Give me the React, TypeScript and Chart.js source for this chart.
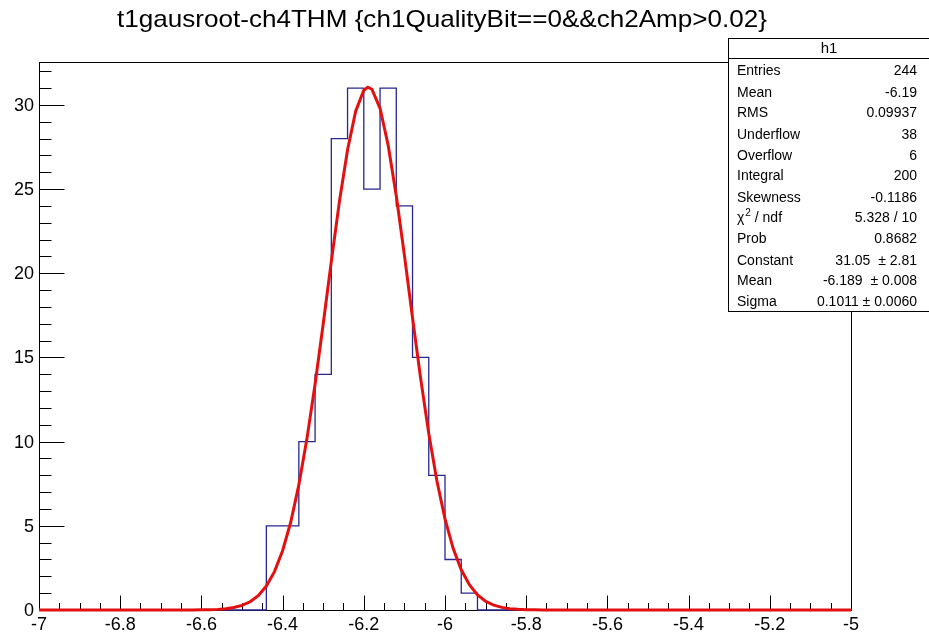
import React, { useEffect, useRef } from "react";
import { Chart, registerables } from "chart.js";

Chart.register(...registerables);

// ---------- data ----------
const TITLE = "t1gausroot-ch4THM {ch1QualityBit==0&&ch2Amp>0.02}";
const X_MIN = -7;
const X_MAX = -5;
const Y_MIN = 0;
const Y_MAX = 32.55;

const BIN_WIDTH = 0.04;
const binLowEdges = [-6.44, -6.4, -6.36, -6.32, -6.28, -6.24, -6.2, -6.16, -6.12, -6.08, -6.04, -6.0, -5.96];
const binCounts = [5, 5, 10, 14, 28, 31, 25, 31, 24, 15, 8, 3, 1];

const fitX = [
  -7.0, -6.62, -6.6, -6.58, -6.56, -6.54, -6.52, -6.5, -6.48, -6.46, -6.44, -6.42, -6.4, -6.38, -6.36,
  -6.34, -6.32, -6.3, -6.28, -6.26, -6.24, -6.22, -6.2, -6.19, -6.18, -6.16, -6.14, -6.12, -6.1, -6.08,
  -6.06, -6.04, -6.02, -6.0, -5.98, -5.96, -5.94, -5.92, -5.9, -5.88, -5.86, -5.84, -5.82, -5.8, -5.78,
  -5.76, -5.0,
];
const fitY = [
  0, 0.004, 0.008, 0.018, 0.037, 0.075, 0.146, 0.274, 0.49, 0.85, 1.42, 2.28, 3.52, 5.21, 7.43,
  10.18, 13.41, 16.99, 20.71, 24.27, 27.34, 29.63, 30.87, 31.05, 30.93, 29.8, 27.61, 24.6, 21.08, 17.36,
  13.76, 10.48, 7.68, 5.41, 3.66, 2.39, 1.5, 0.9, 0.52, 0.291, 0.156, 0.08, 0.04, 0.019, 0.009,
  0.004, 0,
];

const xMajorTicks = [-7, -6.8, -6.6, -6.4, -6.2, -6, -5.8, -5.6, -5.4, -5.2, -5];
const xTickLabels = ["-7", "-6.8", "-6.6", "-6.4", "-6.2", "-6", "-5.8", "-5.6", "-5.4", "-5.2", "-5"];
const X_MINOR_STEP = 0.05;
const yMajorTicks = [0, 5, 10, 15, 20, 25, 30];
const yTickLabels = ["0", "5", "10", "15", "20", "25", "30"];
const Y_MINOR_STEP = 1;

const STATS_TITLE = "h1";
const statsLabels = ["Entries", "Mean", "RMS", "Underflow", "Overflow", "Integral", "Skewness", "CHI2", "Prob", "Constant", "Mean", "Sigma"];
const statsValues = ["244", "-6.19", "0.09937", "38", "6", "200", "-0.1186", "5.328 / 10", "0.8682", "31.05  \u00b1 2.81", "-6.189  \u00b1 0.008", "0.1011 \u00b1 0.0060"];
const statsRowY = [71, 93, 113, 135, 156, 176, 198, 218, 239, 261, 281, 302];

const HIST_COLOR = "#27278f";
const FIT_COLOR = "#e41010";
const FONT = "'Liberation Sans', Arial, Helvetica, sans-serif";

function stretchedText(ctx: any, text: string, x: number, y: number, targetWidth: number) {
  const w = ctx.measureText(text).width;
  const sx = targetWidth / w;
  ctx.save();
  ctx.translate(x, y);
  ctx.scale(sx, 1);
  ctx.textAlign = "center";
  ctx.fillText(text, 0, 0);
  ctx.restore();
}

// ---------- plugin ----------
const rootPlugin = {
  id: "rootDecor",
  beforeDatasetsDraw(chart: any) {
    const { ctx, chartArea: a, scales } = chart;
    const xs = scales.x;
    const ys = scales.y;
    ctx.save();
    ctx.strokeStyle = "#000";
    ctx.lineWidth = 1;
    const L = Math.round(a.left) + 0.5;
    const R = Math.round(a.right) + 0.5;
    const T = Math.round(a.top) + 0.5;
    const B = Math.round(a.bottom) + 0.5;
    ctx.strokeRect(L, T, R - L, B - T);

    ctx.beginPath();
    for (let v = X_MIN; v <= X_MAX + 1e-9; v += X_MINOR_STEP) {
      const isMajor = xMajorTicks.some((m) => Math.abs(m - v) < 1e-6);
      const px = Math.round(xs.getPixelForValue(v)) + 0.5;
      ctx.moveTo(px, B);
      ctx.lineTo(px, B - (isMajor ? 15 : 7.5));
    }
    for (let v = Y_MIN; v <= Y_MAX + 1e-9; v += Y_MINOR_STEP) {
      const isMajor = yMajorTicks.some((m) => Math.abs(m - v) < 1e-6);
      const py = Math.round(ys.getPixelForValue(v)) + 0.5;
      ctx.moveTo(L, py);
      ctx.lineTo(L + (isMajor ? 25 : 12), py);
    }
    ctx.stroke();

    ctx.fillStyle = "#000";
    ctx.font = `18px ${FONT}`;
    ctx.textAlign = "center";
    ctx.textBaseline = "alphabetic";
    xMajorTicks.forEach((v, i) => {
      ctx.fillText(xTickLabels[i], xs.getPixelForValue(v), 630);
    });
    ctx.textAlign = "right";
    ctx.textBaseline = "middle";
    yMajorTicks.forEach((v, i) => {
      ctx.fillText(yTickLabels[i], 34, ys.getPixelForValue(v) + 1);
    });

    ctx.font = `24px ${FONT}`;
    ctx.textBaseline = "alphabetic";
    stretchedText(ctx, TITLE, 442, 27, 650);
    ctx.restore();
  },
  afterDraw(chart: any) {
    const { ctx } = chart;
    ctx.save();
    const bx = 728.5, by = 38.5, bw = 210, bh = 273;
    ctx.fillStyle = "#fff";
    ctx.fillRect(bx, by, bw, bh);
    ctx.strokeStyle = "#000";
    ctx.lineWidth = 1;
    ctx.strokeRect(bx, by, bw, bh);
    ctx.beginPath();
    ctx.moveTo(bx, 58.5);
    ctx.lineTo(bx + bw, 58.5);
    ctx.stroke();

    ctx.fillStyle = "#000";
    ctx.font = `15px ${FONT}`;
    ctx.textAlign = "center";
    ctx.textBaseline = "middle";
    ctx.fillText(STATS_TITLE, 829, 48.5);

    const F = `14px ${FONT}`;
    ctx.font = F;
    statsLabels.forEach((lab, i) => {
      const y = statsRowY[i];
      ctx.textAlign = "left";
      if (lab === "CHI2") {
        ctx.font = F;
        ctx.fillText("\u03c7", 737, y);
        const w1 = ctx.measureText("\u03c7").width;
        ctx.font = `10px ${FONT}`;
        ctx.fillText("2", 737 + w1 + 1, y - 5);
        const w2 = ctx.measureText("2").width;
        ctx.font = F;
        ctx.fillText(" / ndf", 737 + w1 + 1 + w2, y);
      } else {
        ctx.fillText(lab, 737, y);
      }
      ctx.textAlign = "right";
      ctx.fillText(statsValues[i], 917, y);
    });
    ctx.restore();
  },
};

export default function App() {
  const ref = useRef<HTMLCanvasElement | null>(null);
  useEffect(() => {
    if (!ref.current) return;
    const histPoints: { x: number; y: number }[] = [{ x: X_MIN, y: 0 }];
    binLowEdges.forEach((e, i) => histPoints.push({ x: e, y: binCounts[i] }));
    histPoints.push({ x: binLowEdges[binLowEdges.length - 1] + BIN_WIDTH, y: 0 });
    histPoints.push({ x: X_MAX, y: 0 });
    const fitPoints = fitX.map((x, i) => ({ x, y: fitY[i] }));

    const chart = new Chart(ref.current, {
      type: "line",
      data: {
        datasets: [
          {
            label: "fit",
            data: fitPoints,
            borderColor: FIT_COLOR,
            borderWidth: 3,
            pointRadius: 0,
            tension: 0,
            fill: false,
            order: 0,
            clip: 4,
          } as any,
          {
            label: "h1",
            data: histPoints,
            borderColor: HIST_COLOR,
            borderWidth: 1.3,
            pointRadius: 0,
            stepped: "before",
            fill: false,
            order: 1,
            clip: 4,
          } as any,
        ],
      },
      options: {
        animation: false,
        responsive: false,
        maintainAspectRatio: false,
        devicePixelRatio: 1,
        layout: { padding: { left: 39, top: 62, right: 78, bottom: 26 } },
        plugins: { legend: { display: false }, tooltip: { enabled: false }, title: { display: false } },
        scales: {
          x: { type: "linear", min: X_MIN, max: X_MAX, display: false },
          y: { type: "linear", min: Y_MIN, max: Y_MAX, display: false },
        },
      },
      plugins: [rootPlugin],
    });
    return () => chart.destroy();
  }, []);

  return (
    <div style={{ position: "fixed", left: 0, top: 0, width: 929, height: 636, background: "#fff" }}>
      <canvas ref={ref} width={929} height={636} style={{ width: 929, height: 636, display: "block" }} />
    </div>
  );
}
